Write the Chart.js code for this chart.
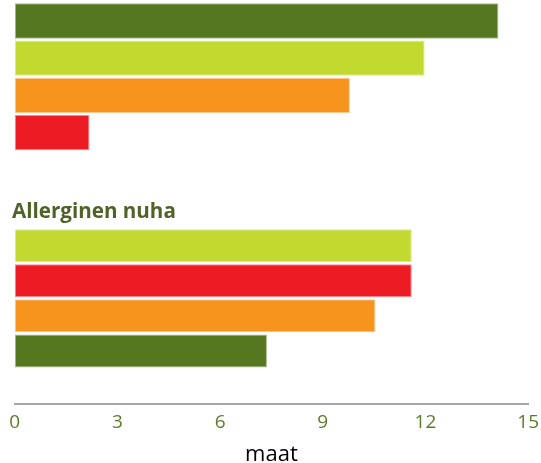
<!DOCTYPE html>
<html>
<head>
<meta charset="utf-8">
<script src="https://cdn.jsdelivr.net/npm/chart.js@4"></script>
<style>
  html, body { margin: 0; padding: 0; background: #fff; }
  #wrap { position: relative; width: 541px; height: 463px; overflow: hidden; }
  .box { position: absolute; left: 0; width: 541px; }
  #topBox { top: 0; height: 155px; }
  #nuhaBox { top: 190px; height: 273px; }
</style>
</head>
<body>
<div id="wrap">
  <div class="box" id="topBox"><canvas id="topChart"></canvas></div>
  <div class="box" id="nuhaBox"><canvas id="nuhaChart"></canvas></div>
</div>
<script>
// värit
const DARK_GREEN = "#55771f";
const LIGHT_GREEN = "#c2d930";
const ORANGE = "#f7941e";
const RED = "#ed1c24";

// ylempi ryhmä
const topRows = ["1", "2", "3", "4"];
const topValues = [14.1, 11.95, 9.77, 2.18];
const topColors = [DARK_GREEN, LIGHT_GREEN, ORANGE, RED];

// allerginen nuha
const nuhaTitle = "Allerginen nuha";
const nuhaRows = ["1", "2", "3", "4", ""];
const nuhaValues = [11.6, 11.6, 10.54, 7.37, null];
const nuhaColors = [LIGHT_GREEN, RED, ORANGE, DARK_GREEN, DARK_GREEN];

// x-akseli
const xTicks = [0, 3, 6, 9, 12, 15];
const xTitle = "maat";

Chart.defaults.font.family = "'Open Sans', sans-serif";
Chart.defaults.animation = false;

// vaalea reunaviiva palkin ympärille
const edge = cols => cols.map(c => c + "80");

function barOptions(showAxis, extra) {
    return Object.assign({
        indexAxis: "y",
        responsive: true,
        maintainAspectRatio: false,
        plugins: { legend: { display: false }, tooltip: { enabled: false } },
        scales: {
            x: {
                min: 0,
                max: 15,
                display: showAxis,
                afterBuildTicks: axis => { axis.ticks = xTicks.map(v => ({ value: v })); },
                grid: { display: false, drawTicks: false },
                border: { display: true, color: "#a6a6a6", width: 2 },
                // pieni padding, ettei viimeinen luku kavenna piirtoaluetta; korkea rivi laskee numerot alemmas
                ticks: { color: "#5a7d2a", font: { size: 19, lineHeight: 1.82 }, padding: 2 },
                title: {
                    display: true,
                    text: xTitle,
                    color: "#000",
                    font: { size: 22, lineHeight: 0.68 },
                    padding: { top: 5, bottom: 0.9 }
                }
            },
            y: {
                // kapea tyhjä akseli, jotta otsikko alkaa hieman palkkien vasemmalta puolelta
                display: true,
                grid: { display: false },
                border: { display: false },
                ticks: { display: false },
                afterFit: s => { s.width = 2.7; }
            }
        }
    }, extra);
}

new Chart(document.getElementById("topChart"), {
    type: "bar",
    data: {
        labels: topRows,
        datasets: [{
            data: topValues,
            backgroundColor: topColors,
            borderColor: edge(topColors),
            borderWidth: 1,
            borderSkipped: false,
            categoryPercentage: 1,
            barPercentage: 0.95
        }]
    },
    options: barOptions(false, {
        layout: { padding: { left: 12, right: 11.7, top: 2.4, bottom: 3.8 } }
    })
});

const nuhaOpts = barOptions(true, {
    layout: { padding: { left: 12, right: 11.7, top: 0, bottom: 0 } }
});
nuhaOpts.plugins.title = {
    display: true,
    text: nuhaTitle,
    align: "start",
    color: "#4f6228",
    font: { size: 20.6, weight: "bold" },
    padding: { top: 9.4, bottom: 4 }
};

new Chart(document.getElementById("nuhaChart"), {
    type: "bar",
    data: {
        labels: nuhaRows,
        datasets: [{
            data: nuhaValues,
            backgroundColor: nuhaColors,
            borderColor: edge(nuhaColors),
            borderWidth: 1,
            borderSkipped: false,
            categoryPercentage: 1,
            barPercentage: 0.94
        }]
    },
    options: nuhaOpts
});
</script>
</body>
</html>
